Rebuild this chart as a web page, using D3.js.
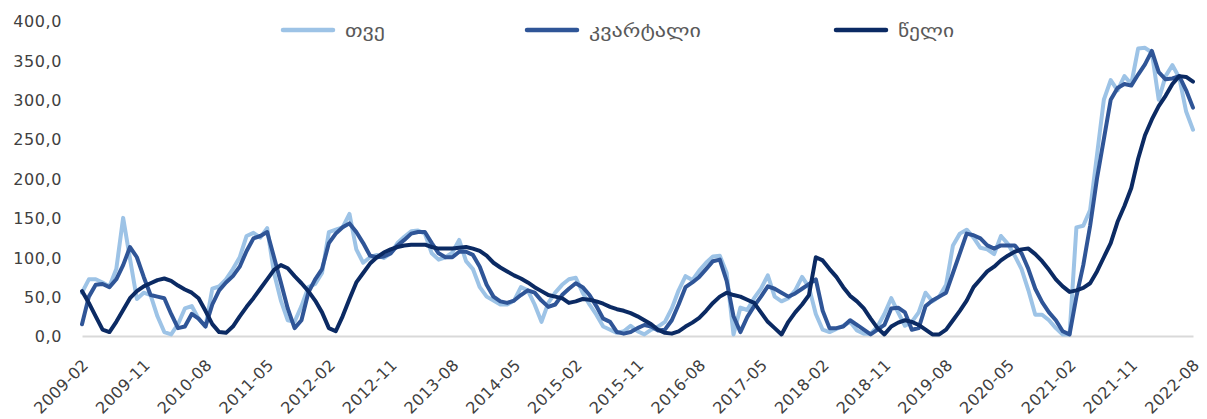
<!DOCTYPE html>
<html><head><meta charset="utf-8">
<script src="https://cdn.jsdelivr.net/npm/d3@7"></script>
<style>
body{margin:0;background:#fff;}
svg{display:block;}
.lbl{font-family:"DejaVu Sans",sans-serif;font-size:16px;fill:#404040;}
.xl{font-family:"DejaVu Sans",sans-serif;font-size:16px;fill:#404040;}
.leg{font-family:"DejaVu Sans",sans-serif;font-size:18px;fill:#595959;}
</style></head>
<body>
<svg id="c" width="1207" height="419"></svg>
<script>
// ---- data ----
const startMonth = "2009-02";
const endMonth = "2022-08";
const tickLabels = ["2009-02","2009-11","2010-08","2011-05","2012-02","2012-11","2013-08","2014-05","2015-02","2015-11","2016-08","2017-05","2018-02","2018-11","2019-08","2020-05","2021-02","2021-11","2022-08"];
const yTicks = [0,50,100,150,200,250,300,350,400];
const seriesNames = ["თვე","კვარტალი","წელი"];

const monthly = [55,72,72,68,63,85,150,98,47,55,52,25,5,2,15,35,38,22,12,60,
63,72,85,100,127,131,125,137,80,45,20,18,38,62,66,80,132,135,138,155,
110,93,100,103,99,105,118,126,133,134,130,105,97,100,106,122,95,85,62,50,
45,40,40,45,62,58,40,18,42,55,65,72,74,55,40,27,12,8,4,6,
13,6,2,8,12,18,35,58,76,71,83,93,101,102,80,2,36,33,48,60,
77,50,44,48,58,75,62,28,8,5,9,13,18,7,3,3,12,28,48,30,
13,18,30,55,44,50,65,115,130,135,125,112,110,104,127,117,102,85,58,27,
27,20,10,2,2,138,140,160,230,300,325,312,330,320,365,366,360,300,330,344,
328,285,262];

const quarterly = [15,50,65,66,62,72,90,113,100,75,52,50,48,28,10,12,28,22,12,40,
58,68,76,88,108,124,127,132,100,68,35,10,20,55,72,85,118,130,138,143,
132,118,102,100,101,105,115,122,130,132,132,118,105,100,100,107,107,103,88,65,
50,44,42,45,52,58,55,45,37,40,52,60,67,62,52,38,22,18,5,3,
5,10,14,12,7,8,20,40,62,68,75,85,95,97,70,25,5,24,38,50,
63,60,55,50,54,60,66,72,32,10,10,12,20,14,8,2,8,14,35,36,
30,8,10,38,45,50,55,80,105,130,128,124,115,111,115,115,115,105,85,60,
43,30,20,6,2,50,90,140,200,250,300,315,320,318,332,345,362,335,326,327,
330,312,290];

const annual = [57,42,25,8,5,18,33,48,57,63,67,71,73,70,64,59,55,48,32,15,
5,4,12,25,37,48,60,72,84,90,86,76,67,57,45,30,10,6,25,47,
68,80,92,100,106,110,113,115,116,116,116,113,111,111,111,112,113,111,108,102,
93,87,82,77,73,68,62,57,52,50,48,42,44,47,46,44,41,37,34,32,
29,25,20,15,8,4,3,6,12,17,23,32,42,50,55,52,50,46,42,30,
18,10,2,18,30,40,52,100,96,85,75,62,51,44,35,22,10,2,12,17,
20,18,14,8,2,2,8,20,32,45,62,72,82,88,96,102,107,110,111,104,
95,84,72,63,56,58,61,67,82,100,118,145,165,188,225,255,275,292,305,320,
330,329,323];

const colors = ["#9DC3E6","#2F5597","#0B2A63"];

// ---- chart ----
const svg = d3.select("#c");
const parse = d3.timeParse("%Y-%m");
const fmt = d3.timeFormat("%Y-%m");
const months = d3.timeMonth.range(parse(startMonth), d3.timeMonth.offset(parse(endMonth),1)).map(fmt);

const x = d3.scalePoint().domain(months).range([82,1193]);
const y = d3.scaleLinear().domain([0,400]).range([336,21]);

// y axis
const yAxis = svg.append("g").attr("transform","translate(82,0)")
  .call(d3.axisLeft(y).tickValues(yTicks).tickSize(0).tickPadding(20)
    .tickFormat(d => d3.format(".1f")(d).replace(".",",")));
yAxis.select(".domain").remove();
yAxis.selectAll("text").attr("class","lbl").attr("dy","0.36em").style("letter-spacing","0.6px");

// x axis line
const xAxis = svg.append("g").attr("transform","translate(0,336)")
  .call(d3.axisBottom(x).tickValues(tickLabels).tickSize(0).tickFormat(d=>d));
xAxis.select(".domain").attr("stroke","#D9D9D9").attr("stroke-width",2);
xAxis.selectAll(".tick text").attr("class","xl")
  .attr("text-anchor","end").attr("dy",null).attr("y",null)
  .style("letter-spacing","0.3px")
  .attr("transform","translate(7,30) rotate(-45)");

// lines
const data = [monthly, quarterly, annual];
const line = d3.line().x((d,i)=>x(months[i])).y(d=>y(d));
data.forEach((s,k)=>{
  svg.append("path").datum(s).attr("d",line)
    .attr("fill","none").attr("stroke",colors[k]).attr("stroke-width",4)
    .attr("stroke-linejoin","round").attr("stroke-linecap","round");
});

// legend
const legX = [283,527,836];
const legW = [40,112,56];
const leg = svg.append("g");
seriesNames.forEach((n,k)=>{
  leg.append("line").attr("x1",legX[k]).attr("x2",legX[k]+50).attr("y1",30).attr("y2",30)
    .attr("stroke",colors[k]).attr("stroke-width",4.5).attr("stroke-linecap","round");
  leg.append("text").attr("class","leg").attr("x",legX[k]+62).attr("y",37)
    .attr("textLength",legW[k]).attr("lengthAdjust","spacingAndGlyphs").text(n);
});
</script>
</body></html>
